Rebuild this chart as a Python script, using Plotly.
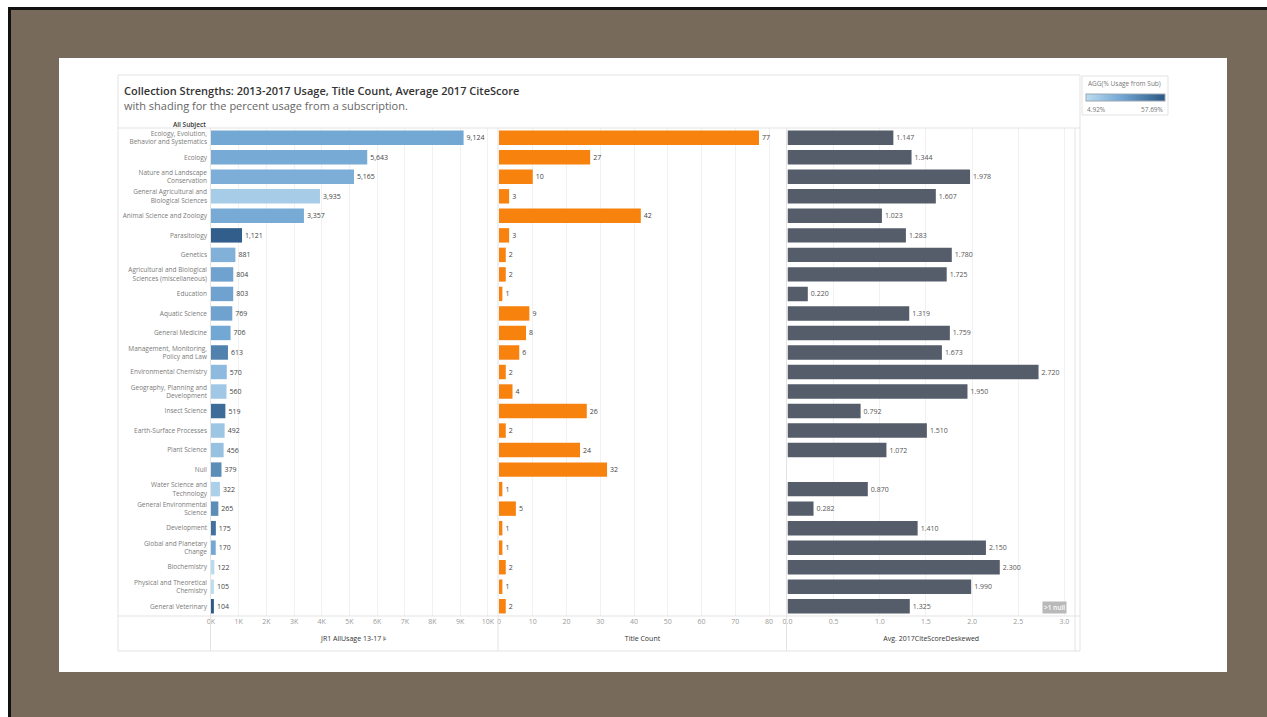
import plotly.graph_objects as go

W, H = 1267, 717

subjects = [
    "Ecology, Evolution,<br>Behavior and Systematics", "Ecology",
    "Nature and Landscape<br>Conservation", "General Agricultural and<br>Biological Sciences",
    "Animal Science and Zoology", "Parasitology", "Genetics",
    "Agricultural and Biological<br>Sciences (miscellaneous)", "Education", "Aquatic Science",
    "General Medicine", "Management, Monitoring,<br>Policy and Law", "Environmental Chemistry",
    "Geography, Planning and<br>Development", "Insect Science", "Earth-Surface Processes",
    "Plant Science", "Null", "Water Science and<br>Technology", "General Environmental<br>Science",
    "Development", "Global and Planetary<br>Change", "Biochemistry",
    "Physical and Theoretical<br>Chemistry", "General Veterinary",
]
usage = [9124, 5643, 5165, 3935, 3357, 1121, 881, 804, 803, 769, 706, 613, 570, 560, 519,
         492, 456, 379, 322, 265, 175, 170, 122, 105, 104]
title_count = [77, 27, 10, 3, 42, 3, 2, 2, 1, 9, 8, 6, 2, 4, 26, 2, 24, 32, 1, 5, 1, 1, 2, 1, 2]
citescore = [1.147, 1.344, 1.978, 1.607, 1.023, 1.283, 1.780, 1.725, 0.220, 1.319, 1.759, 1.673,
             2.720, 1.950, 0.792, 1.510, 1.072, None, 0.870, 0.282, 1.410, 2.150, 2.300, 1.990, 1.325]
pct_sub = [28, 27, 25, 12, 27, 55, 24, 30, 30, 30, 28, 42, 20, 14, 50, 15, 17, 38, 10, 38,
           48, 28, 6, 5, 57]
pct_min, pct_max = 4.92, 57.69

usage_ticks = list(range(0, 10001, 1000))
usage_ticktext = [f"{v // 1000}K" for v in usage_ticks]
count_ticks = list(range(0, 81, 10))
cite_ticks = [0.0, 0.5, 1.0, 1.5, 2.0, 2.5, 3.0]


def px(x):
    return x / W


def py(y):
    return 1 - y / H


blue_scale = [[0, "#bcdcf0"], [0.45, "#72a6d3"], [1, "#2a5783"]]
label_font = dict(family="Open Sans", size=7, color="#444")

fig = go.Figure()
fig.add_trace(go.Bar(
    x=usage, y=subjects, orientation="h", xaxis="x", yaxis="y",
    marker=dict(color=pct_sub, colorscale=blue_scale, cmin=pct_min, cmax=pct_max,
                line=dict(width=0), showscale=True,
                colorbar=dict(orientation="h", x=px(1125.5), y=py(98.5), xanchor="center",
                              yanchor="middle", lenmode="pixels", len=79,
                              thicknessmode="pixels", thickness=7, xpad=0, ypad=0,
                              showticklabels=False, ticks="", outlinewidth=1,
                              outlinecolor="#9aa7b4")),
    texttemplate="%{x:,}", textposition="outside", textfont=label_font,
    cliponaxis=False, width=0.74, hoverinfo="x+y",
))
fig.add_trace(go.Bar(
    x=title_count, y=subjects, orientation="h", xaxis="x2", yaxis="y2",
    marker=dict(color="#f7820e", line=dict(width=0)),
    texttemplate="%{x}", textposition="outside", textfont=label_font,
    cliponaxis=False, width=0.74,
))
fig.add_trace(go.Bar(
    x=citescore, y=subjects, orientation="h", xaxis="x3", yaxis="y3",
    marker=dict(color="#555c6a", line=dict(width=0)),
    texttemplate="%{x:.3f}", textposition="outside",
    textfont=dict(family="Open Sans", size=7, color="#555"),
    cliponaxis=False, width=0.74,
))

ydom = [py(616), py(128)]
axis_common = dict(showgrid=True, gridcolor="#f1f1f1", gridwidth=1, zeroline=False,
                   ticks="", showline=False, fixedrange=True,
                   tickfont=dict(family="Open Sans", size=7, color="#9a9a9a"))
title_font = dict(family="Open Sans", size=7, color="#333")

fig.update_layout(
    width=W, height=H, margin=dict(l=0, r=0, t=0, b=0, autoexpand=False),
    paper_bgcolor="#786a5b", plot_bgcolor="rgba(0,0,0,0)",
    showlegend=False, bargap=0.26,
    xaxis=dict(domain=[px(211), px(497)], range=[0, 10330], tickvals=usage_ticks,
               ticktext=usage_ticktext, anchor="y",
               title=dict(text="JR1 AllUsage 13-17 ⊧", font=title_font, standoff=11),
               **axis_common),
    xaxis2=dict(domain=[px(499), px(786)], range=[0, 85], tickvals=count_ticks, anchor="y2",
                title=dict(text="Title Count", font=title_font, standoff=11), **axis_common),
    xaxis3=dict(domain=[px(787.5), px(1075)], range=[0, 3.115], tickvals=cite_ticks,
                tickformat=".1f", anchor="y3",
                title=dict(text="Avg. 2017CiteScoreDeskewed", font=title_font, standoff=11),
                **axis_common),
    yaxis=dict(domain=ydom, categoryorder="array", categoryarray=subjects, autorange="reversed",
               showgrid=False, zeroline=False, ticks="", fixedrange=True, ticklabelstandoff=3,
               tickfont=dict(family="Open Sans", size=6.5, color="#7a7a7a"), anchor="x"),
    yaxis2=dict(domain=ydom, matches="y", showticklabels=False, showgrid=False,
                zeroline=False, anchor="x2"),
    yaxis3=dict(domain=ydom, matches="y", showticklabels=False, showgrid=False,
                zeroline=False, anchor="x3"),
)

shapes = [
    dict(type="rect", xref="paper", yref="paper", x0=0, x1=1, y0=0, y1=1,
         fillcolor="#ffffff", line=dict(width=0), layer="below"),
    dict(type="rect", xref="paper", yref="paper", x0=px(8), x1=1, y0=0, y1=py(7),
         fillcolor="#111111", line=dict(width=0), layer="below"),
    dict(type="rect", xref="paper", yref="paper", x0=px(11), x1=1, y0=0, y1=py(10),
         fillcolor="#786a5b", line=dict(width=0), layer="below"),
    dict(type="rect", xref="paper", yref="paper", x0=px(59), x1=px(1227), y0=py(672),
         y1=py(58), fillcolor="#ffffff", line=dict(width=0), layer="below"),
    dict(type="rect", xref="paper", yref="paper", x0=px(118), x1=px(1080), y0=py(651),
         y1=py(75), fillcolor="rgba(0,0,0,0)", line=dict(width=1, color="#e3e3e3"),
         layer="below"),
    dict(type="rect", xref="paper", yref="paper", x0=px(1082), x1=px(1168), y0=py(115),
         y1=py(76), fillcolor="rgba(0,0,0,0)", line=dict(width=1, color="#e3e3e3"),
         layer="below"),
]
for yy in (128, 616):
    shapes.append(dict(type="line", xref="paper", yref="paper", x0=px(118), x1=px(1080),
                       y0=py(yy), y1=py(yy), line=dict(width=1, color="#e3e3e3")))
for xx in (210.5, 498, 786.5, 1075):
    shapes.append(dict(type="line", xref="paper", yref="paper", x0=px(xx), x1=px(xx),
                       y0=py(651), y1=py(128), line=dict(width=1, color="#e3e3e3")))
fig.update_layout(shapes=shapes)

ann = [
    dict(text="Collection Strengths: 2013-2017 Usage, Title Count, Average 2017 CiteScore",
         x=px(122), y=py(90), xanchor="left", yanchor="middle",
         font=dict(family="Open Sans", size=11, color="#333", weight=600)),
    dict(text="with shading for the percent usage from a subscription.",
         x=px(122), y=py(105), xanchor="left", yanchor="middle",
         font=dict(family="Open Sans", size=11, color="#666")),
    dict(text="All Subject", x=px(208), y=py(124), xanchor="right", yanchor="middle",
         font=dict(family="Open Sans", size=6.5, color="#333", weight=600)),
    dict(text="AGG(% Usage from Sub)", x=px(1086), y=py(84), xanchor="left", yanchor="middle",
         font=dict(family="Open Sans", size=6.5, color="#777")),
    dict(text=f"{pct_min:.2f}%", x=px(1085), y=py(109), xanchor="left", yanchor="middle",
         font=dict(family="Open Sans", size=6.5, color="#777")),
    dict(text=f"{pct_max:.2f}%", x=px(1166), y=py(109), xanchor="right", yanchor="middle",
         font=dict(family="Open Sans", size=6.5, color="#777")),
    dict(text="&gt;1 null", x=px(1054), y=py(607), xanchor="center", yanchor="middle",
         bgcolor="#b9b9b9", borderpad=1,
         font=dict(family="Open Sans", size=6.5, color="#ffffff", weight=600)),
]
for a in ann:
    a.update(xref="paper", yref="paper", showarrow=False)
fig.update_layout(annotations=ann)

fig.write_html("out.html")
